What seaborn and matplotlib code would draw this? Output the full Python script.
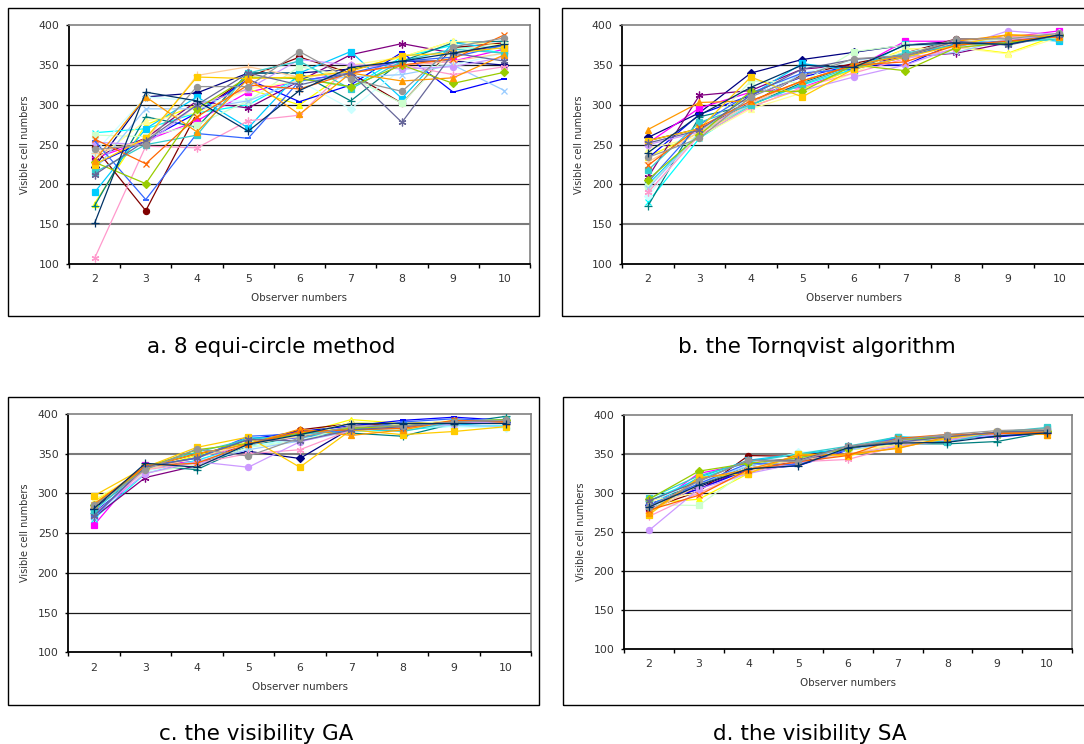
import matplotlib
matplotlib.use("Agg")
import matplotlib.pyplot as plt
from matplotlib.patches import Rectangle
from matplotlib.ticker import FixedLocator
import seaborn as sns
import numpy as np

# ---------------- data ----------------
observers = [2, 3, 4, 5, 6, 7, 8, 9, 10]
yticks = [100, 150, 200, 250, 300, 350, 400]

series_colors = ["#000080", "#FF00FF", "#FFFF00", "#00FFFF", "#800080", "#800000",
                 "#008080", "#0000FF", "#00CCFF", "#CCFFFF", "#CCFFCC", "#FFFF99",
                 "#99CCFF", "#FF99CC", "#CC99FF", "#FFCC99", "#3366FF", "#33CCCC",
                 "#99CC00", "#FFCC00", "#FF9900", "#FF6600", "#666699", "#969696",
                 "#003366"]

equi_circle = [
    [222, 310, 315, 340, 340, 345, 355, 355, 350],
    [233, 255, 280, 316, 330, 340, 350, 355, 370],
    [176, 275, 300, 320, 300, 345, 360, 380, 375],
    [265, 270, 290, 300, 335, 322, 360, 375, 365],
    [235, 258, 305, 296, 330, 363, 377, 365, 375],
    [247, 167, 290, 335, 360, 340, 302, 372, 378],
    [173, 285, 272, 340, 340, 305, 355, 378, 380],
    [225, 255, 290, 332, 304, 325, 366, 316, 333],
    [190, 270, 310, 271, 340, 367, 308, 378, 370],
    [240, 310, 305, 305, 330, 295, 345, 350, 365],
    [262, 260, 275, 305, 348, 335, 302, 370, 375],
    [230, 280, 290, 320, 330, 350, 360, 380, 375],
    [218, 295, 295, 305, 330, 335, 338, 350, 318],
    [107, 248, 246, 280, 287, 350, 350, 338, 348],
    [253, 250, 300, 320, 357, 350, 345, 348, 360],
    [240, 255, 337, 348, 335, 340, 350, 355, 365],
    [255, 181, 264, 258, 330, 340, 355, 360, 375],
    [215, 250, 262, 340, 355, 320, 355, 370, 365],
    [228, 201, 295, 335, 333, 323, 350, 327, 341],
    [225, 258, 335, 333, 335, 342, 362, 365, 372],
    [230, 310, 266, 333, 288, 340, 330, 334, 363],
    [257, 226, 285, 325, 320, 340, 350, 358, 388],
    [212, 255, 300, 340, 325, 340, 278, 365, 355],
    [244, 250, 323, 323, 367, 332, 317, 373, 384],
    [151, 316, 305, 267, 318, 347, 355, 365, 376],
]

tornqvist = [
    [259, 290, 340, 357, 366, 375, 380, 385, 388],
    [252, 296, 316, 322, 345, 380, 380, 385, 393],
    [235, 265, 298, 320, 345, 370, 373, 365, 388],
    [178, 258, 300, 325, 345, 365, 375, 380, 385],
    [209, 312, 318, 345, 350, 360, 365, 378, 388],
    [255, 270, 302, 338, 352, 365, 383, 382, 388],
    [173, 285, 300, 328, 350, 362, 375, 380, 387],
    [233, 288, 312, 335, 350, 350, 378, 376, 388],
    [200, 265, 312, 352, 343, 376, 375, 385, 380],
    [185, 268, 310, 340, 355, 365, 380, 383, 390],
    [198, 262, 330, 328, 367, 375, 378, 383, 388],
    [245, 260, 295, 315, 340, 370, 372, 364, 385],
    [195, 265, 300, 340, 345, 360, 366, 383, 385],
    [190, 262, 297, 322, 340, 358, 370, 382, 386],
    [250, 266, 305, 318, 335, 350, 372, 393, 388],
    [228, 266, 302, 330, 350, 362, 378, 385, 388],
    [203, 275, 315, 340, 345, 360, 377, 380, 387],
    [218, 278, 300, 326, 348, 365, 375, 378, 383],
    [206, 262, 317, 317, 350, 343, 372, 378, 388],
    [255, 270, 335, 310, 345, 360, 375, 388, 387],
    [269, 303, 305, 330, 350, 362, 380, 388, 385],
    [224, 272, 305, 330, 350, 354, 375, 380, 386],
    [252, 268, 312, 345, 357, 362, 380, 375, 388],
    [234, 258, 310, 336, 358, 362, 383, 383, 390],
    [240, 287, 322, 350, 347, 375, 378, 376, 388],
]

visibility_ga = [
    [280, 335, 340, 353, 344, 382, 388, 390, 390],
    [260, 336, 340, 365, 370, 378, 385, 390, 390],
    [290, 330, 348, 365, 375, 393, 388, 390, 392],
    [268, 325, 342, 360, 368, 378, 380, 385, 385],
    [270, 320, 335, 365, 375, 378, 385, 388, 390],
    [283, 333, 350, 362, 380, 388, 386, 390, 392],
    [275, 335, 330, 360, 372, 376, 372, 388, 397],
    [275, 332, 345, 368, 378, 385, 392, 396, 392],
    [272, 333, 345, 370, 370, 380, 388, 386, 390],
    [278, 328, 340, 360, 368, 378, 383, 384, 382],
    [285, 326, 336, 358, 366, 385, 380, 390, 392],
    [292, 330, 345, 365, 372, 390, 386, 392, 393],
    [270, 332, 340, 355, 366, 378, 384, 386, 384],
    [272, 330, 338, 350, 355, 380, 383, 388, 390],
    [275, 325, 340, 333, 365, 380, 382, 388, 390],
    [283, 330, 345, 362, 372, 384, 382, 390, 392],
    [270, 335, 344, 372, 375, 380, 390, 394, 391],
    [278, 334, 352, 368, 374, 382, 378, 390, 393],
    [285, 332, 355, 363, 376, 382, 385, 390, 393],
    [297, 333, 358, 371, 333, 380, 374, 378, 384],
    [287, 333, 350, 362, 381, 373, 380, 392, 390],
    [285, 335, 338, 362, 378, 380, 382, 392, 390],
    [272, 333, 345, 368, 366, 380, 384, 390, 392],
    [285, 330, 356, 347, 370, 385, 385, 390, 392],
    [281, 338, 333, 362, 374, 388, 388, 388, 388],
]

visibility_sa = [
    [285, 308, 332, 338, 358, 370, 370, 375, 378],
    [280, 325, 338, 345, 358, 370, 372, 378, 380],
    [287, 292, 325, 345, 355, 362, 368, 375, 380],
    [290, 318, 340, 350, 357, 372, 368, 374, 382],
    [286, 305, 332, 340, 358, 368, 372, 376, 378],
    [280, 302, 348, 347, 358, 365, 370, 378, 378],
    [290, 310, 335, 345, 358, 363, 363, 366, 378],
    [285, 305, 330, 335, 355, 368, 370, 372, 377],
    [283, 320, 342, 350, 356, 372, 370, 376, 383],
    [288, 315, 335, 352, 358, 368, 372, 378, 381],
    [285, 284, 330, 345, 355, 365, 370, 378, 382],
    [290, 300, 328, 344, 356, 362, 370, 376, 380],
    [278, 312, 335, 345, 355, 365, 370, 376, 378],
    [270, 300, 327, 340, 343, 360, 368, 376, 378],
    [252, 305, 325, 338, 350, 360, 367, 375, 378],
    [275, 310, 332, 342, 350, 362, 372, 378, 380],
    [284, 312, 338, 336, 356, 370, 372, 378, 376],
    [293, 322, 340, 350, 360, 372, 365, 378, 384],
    [292, 328, 338, 345, 357, 368, 372, 378, 380],
    [272, 320, 325, 350, 348, 358, 370, 378, 375],
    [275, 318, 330, 348, 350, 357, 372, 378, 375],
    [278, 297, 330, 340, 348, 370, 375, 376, 378],
    [290, 315, 342, 342, 360, 365, 372, 378, 380],
    [282, 315, 342, 340, 360, 368, 375, 380, 382],
    [282, 310, 331, 335, 358, 364, 365, 373, 377],
]

captions = ["a. 8 equi-circle method", "b. the Tornqvist algorithm",
            "c. the visibility GA", "d. the visibility SA"]
x_label = "Observer numbers"
y_label = "Visible cell numbers"

# ---------------- style ----------------
sns.set_theme(style="white")
plt.rcParams["font.family"] = ["DejaVu Sans"]

W, H = 1084, 744
fig = plt.figure(figsize=(W / 100, H / 100), dpi=100)


def rect(left, right, top, bottom):
    return [left / W, 1 - bottom / H, (right - left) / W, (bottom - top) / H]


marker_cycle = ["D", "s", "^", "x", (6, 2, 0), "o", "+", "_", "s"]
marker_size = {"D": 3.6, "s": 3.8, "^": 4.4, "x": 4.6, "o": 4.4, "+": 5.6, "_": 5.0}

panels = [
    (equi_circle, rect(68.9, 530.0, 25.3, 264.0), (-0.096, -0.141), [150]),
    (tornqvist, rect(622.3, 1085.0, 25.3, 264.0), (-0.093, -0.141), [150]),
    (visibility_ga, rect(68.2, 531.4, 414.0, 652.3), (-0.094, -0.144), [350]),
    (visibility_sa, rect(624.1, 1071.7, 415.0, 649.0), (-0.096, -0.145), [350]),
]

for data, pos, (ylx, xly), gray_lines in panels:
    ax = fig.add_axes(pos)
    for i, vals in enumerate(data):
        col = series_colors[i % len(series_colors)]
        mk = marker_cycle[i % len(marker_cycle)]
        ms = marker_size.get(mk, 5.6) if not isinstance(mk, tuple) else 5.6
        mew = 1.4 if mk == "_" else 0.9
        sns.lineplot(x=observers, y=vals, ax=ax, color=col, marker=mk,
                     markersize=ms, markeredgecolor=col, markerfacecolor=col,
                     markeredgewidth=mew, linewidth=0.9, errorbar=None,
                     legend=False, sort=False, zorder=3 + i * 0.01)
    ax.set_xlim(1.5, 10.5)
    ax.set_ylim(100, 400)
    ax.set_facecolor("white")
    ax.xaxis.set_major_locator(FixedLocator(observers))
    ax.xaxis.set_minor_locator(FixedLocator(np.arange(1.5, 10.6, 1.0)))
    ax.set_xticklabels([str(v) for v in observers])
    ax.set_yticks(yticks)
    ax.set_yticklabels([str(v) for v in yticks])
    ax.tick_params(axis="x", which="major", length=0, pad=7.5,
                   labelsize=7.8, labelcolor="#333333")
    ax.tick_params(axis="x", which="minor", length=3.2, width=1.0,
                   direction="out", color="black", bottom=True)
    ax.tick_params(axis="y", which="major", length=2.4, width=1.0,
                   direction="out", color="black", pad=4.6,
                   labelsize=7.8, labelcolor="#333333", left=True)
    ax.grid(False)
    for yv in yticks[1:-1]:
        if yv in gray_lines:
            ax.axhline(yv, color="#7a7a7a", linewidth=1.5, zorder=1)
        else:
            ax.axhline(yv, color="#1a1a1a", linewidth=0.9, zorder=1)
    for side in ("left", "bottom"):
        ax.spines[side].set_color("black")
        ax.spines[side].set_linewidth(1.3)
    for side in ("top", "right"):
        ax.spines[side].set_color("#808080")
        ax.spines[side].set_linewidth(1.2)
    ax.set_xlabel(x_label, fontsize=7.4, color="#333333")
    ax.set_ylabel(y_label, fontsize=7.0, color="#333333")
    ax.xaxis.label.set_va("center")
    ax.yaxis.label.set_va("center")
    ax.xaxis.set_label_coords(0.5, xly)
    ax.yaxis.set_label_coords(ylx, 0.5)

# chart-area frames
frames = [(7.9, 539.0, 8.3, 316.0), (562.2, 1095.0, 8.3, 316.0),
          (7.9, 539.0, 396.7, 705.0), (562.9, 1095.0, 396.7, 705.0)]
for l, r, t, b in frames:
    fig.patches.append(Rectangle((l / W, 1 - b / H), (r - l) / W, (b - t) / H,
                                 transform=fig.transFigure, fill=False,
                                 edgecolor="black", linewidth=1.0, zorder=0))

# captions
cap_pos = [(271, 353), (817, 353), (256, 740), (810, 740)]
for txt, (cx, cy) in zip(captions, cap_pos):
    fig.text(cx / W, 1 - cy / H, txt, fontsize=15.5, ha="center", va="baseline",
             color="black")

fig.savefig("out.png", dpi=100, facecolor="white")
